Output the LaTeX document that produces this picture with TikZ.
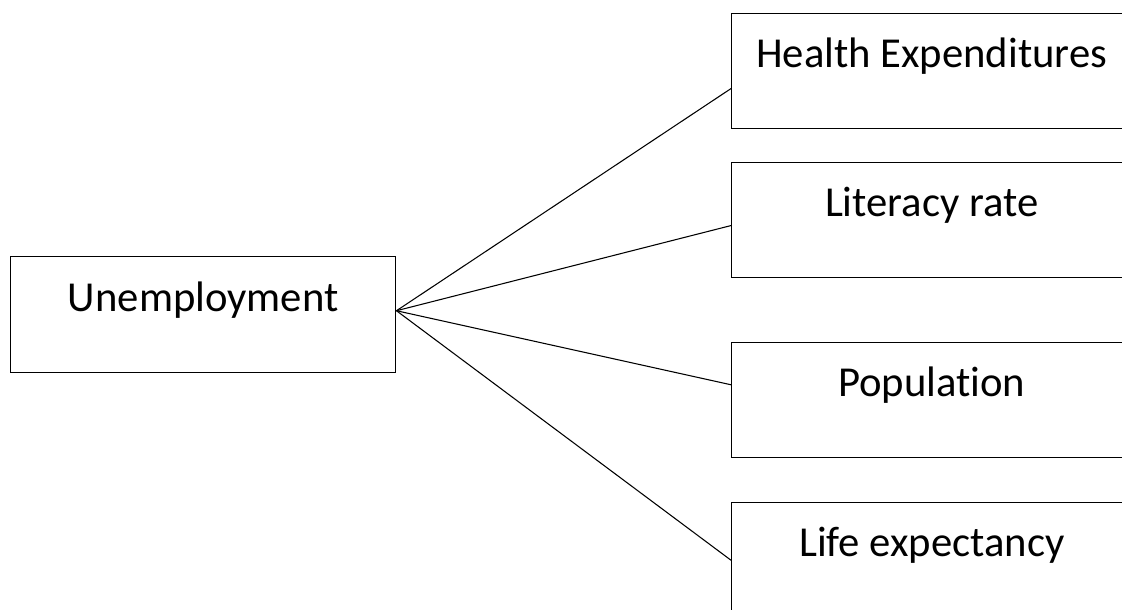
\documentclass[tikz,border=0pt]{standalone}
\usepackage{fontspec}
\setmainfont{Carlito}[Ligatures=NoCommon]
\tikzset{every picture/.style={line width=0.75pt}}
\tikzset{
  varbox/.style={draw, line width=1.1pt, rectangle, inner sep=0pt, anchor=north west,
    minimum width=300pt, text height=40pt, text depth=46.25pt,
    font=\fontsize{32}{38}\selectfont},
  link/.style={line width=0.8pt}
}

\begin{document}
\begin{tikzpicture}[x=0.75pt,y=0.75pt,yscale=-1,xscale=1]
\useasboundingbox (0,0) rectangle (1122,610);
\clip (0,0) rectangle (1122,610);

% Shape: Rectangle
\node [varbox, minimum width=288.75pt, text height=41pt, text depth=46pt] (unemp) at (10,256) {Unemployment};
% Shape: Rectangle
\node [varbox] (health) at (731,13) {Health Expenditures};
% Shape: Rectangle
\node [varbox] (literacy) at (731,162) {Literacy rate};
% Shape: Rectangle
\node [varbox] (population) at (731,342) {Population};
% Shape: Rectangle
\node [varbox] (life) at (731,502) {Life expectancy};

\coordinate (hub) at ([yshift=-3pt]unemp.east);

% Straight Lines
\draw [link] (hub) -- ([yshift=13pt]health.west);
\draw [link] (hub) -- ([yshift=4pt]literacy.west);
\draw [link] (hub) -- ([yshift=-11.6pt]population.west);
\draw [link] (hub) -- (life.west);

\end{tikzpicture}
\end{document}
